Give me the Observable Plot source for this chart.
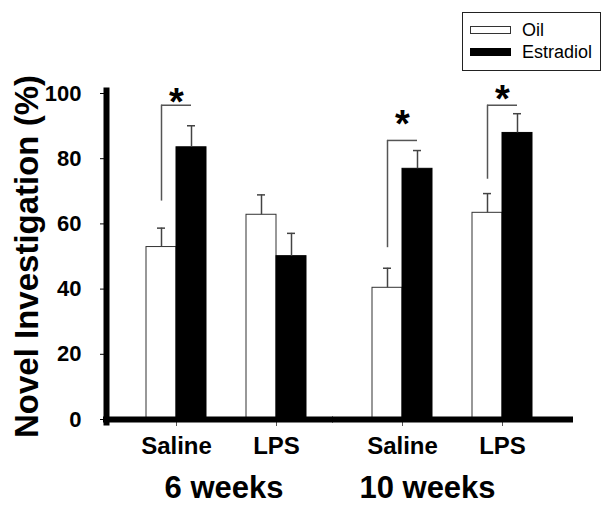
<!DOCTYPE html>
<html><head><meta charset="utf-8">
<script src="https://cdn.jsdelivr.net/npm/d3@7"></script>
<script src="https://cdn.jsdelivr.net/npm/@observablehq/plot@0.6"></script>
<style>
body{margin:0;background:#fff;}
#wrap{position:relative;width:612px;height:510px;font-family:"Liberation Sans",Arial,sans-serif;}
#legend{position:absolute;left:462px;top:12px;width:139px;height:59px;border:1px solid #222;box-sizing:border-box;background:#fff;}
.item{position:absolute;left:7px;height:20px;display:flex;align-items:center;font-size:18px;color:#000;}
.sw{width:41px;height:8px;box-sizing:border-box;border:1px solid #333;margin-right:11px;}
</style></head><body><div id="wrap"><div id="legend"></div></div>
<script>
// ---- data ----
const ageGroups = ["6 weeks", "10 weeks"];
const treatmentLevels = ["Saline", "LPS"];
const seriesNames = ["Oil", "Estradiol"];
const seriesFill = ["white", "black"];

const ages = ["6 weeks", "6 weeks", "10 weeks", "10 weeks"];
const treatments = ["Saline", "LPS", "Saline", "LPS"];
const oilMean = [52.9, 62.8, 40.4, 63.4];
const oilSE = [5.8, 6.1, 6.0, 5.9];
const estMean = [83.5, 50.1, 76.9, 87.9];
const estSE = [6.6, 7.0, 5.6, 5.9];

const sigAge = ["6 weeks", "10 weeks", "10 weeks"];
const sigTreatment = ["Saline", "Saline", "LPS"];
const bracketLow = [67.0, 52.7, 73.7];
const bracketHigh = [96.4, 85.6, 96.4];
const starY = [100.2, 93.3, 101.1];

const yTicks = [0, 20, 40, 60, 80, 100];
const yTitle = "Novel Investigation (%)";

// ---- tables ----
const rows = ages.map((a, i) => ({age: a, treatment: treatments[i], oil: oilMean[i], oilTop: oilMean[i] + oilSE[i], est: estMean[i], estTop: estMean[i] + estSE[i]}));
const sig = sigAge.map((a, i) => ({age: a, treatment: sigTreatment[i], low: bracketLow[i], high: bracketHigh[i], star: starY[i]}));

const plot = Plot.plot({
  width: 612, height: 510,
  marginLeft: 105, marginRight: 54, marginTop: 93, marginBottom: 91,
  style: {fontFamily: "Liberation Sans, Arial, sans-serif", color: "#000", background: "#fff"},
  fx: {domain: ageGroups, padding: 0, axis: null},
  x: {domain: treatmentLevels, paddingInner: 0.403, paddingOuter: 0.328, align: 0.608, axis: null},
  y: {domain: [0, 100], axis: null},
  marks: [
    Plot.barY(rows, {fx: "age", x: "treatment", y: "oil", fill: seriesFill[0], stroke: "#333", strokeWidth: 1, insetRight: 30}),
    Plot.barY(rows, {fx: "age", x: "treatment", y: "est", fill: seriesFill[1], stroke: "#000", strokeWidth: 1, insetLeft: 30}),
    Plot.ruleX(rows, {fx: "age", x: "treatment", y1: "oil", y2: "oilTop", dx: -15, stroke: "#444", strokeWidth: 1.5}),
    Plot.tickY(rows, {fx: "age", x: "treatment", y: "oilTop", insetLeft: 11, insetRight: 41, stroke: "#444", strokeWidth: 1.5}),
    Plot.ruleX(rows, {fx: "age", x: "treatment", y1: "est", y2: "estTop", dx: 15, stroke: "#444", strokeWidth: 1.5}),
    Plot.tickY(rows, {fx: "age", x: "treatment", y: "estTop", insetLeft: 41, insetRight: 11, stroke: "#444", strokeWidth: 1.5}),
    Plot.ruleX(sig, {fx: "age", x: "treatment", y1: "low", y2: "high", dx: -15, stroke: "#555", strokeWidth: 1.5}),
    Plot.tickY(sig, {fx: "age", x: "treatment", y: "high", insetLeft: 15, insetRight: 15, stroke: "#555", strokeWidth: 1.5}),
    Plot.text(sig, {fx: "age", x: "treatment", y: "star", text: () => "*", fontSize: 38, fontWeight: "bold", dy: 9.5}),
    Plot.axisX({tickSize: 7, tickPadding: 10, fontSize: 24, fontWeight: "bold", label: null, stroke: "#555"}),
    Plot.ruleY([0], {facetAnchor: "left", strokeWidth: 6, stroke: "#000", insetLeft: -3, insetRight: -1}),
    Plot.ruleY([0], {facetAnchor: "right", strokeWidth: 6, stroke: "#000", insetLeft: 0, insetRight: -15}),
    Plot.frame({anchor: "left", facetAnchor: "left", stroke: "#000", strokeWidth: 6, insetTop: -3, insetBottom: -3}),
    Plot.axisY({ticks: yTicks, tickSize: 6, tickPadding: 19, fontSize: 22, fontWeight: "bold", label: null, stroke: "#000"}),
    Plot.axisY({ticks: [], tickSize: 0, label: yTitle, labelAnchor: "center", labelArrow: "none", labelOffset: 92, fontSize: 33, fontWeight: "bold"}),
    Plot.text([ageGroups[0]], {fx: d => d, text: d => d, frameAnchor: "bottom", lineAnchor: "top", dy: 56, dx: 4.5, fontSize: 31, fontWeight: "bold"}),
    Plot.text([ageGroups[1]], {fx: d => d, text: d => d, frameAnchor: "bottom", lineAnchor: "top", dy: 56, dx: -18, fontSize: 31, fontWeight: "bold"})
  ]
});
const wrap = document.getElementById("wrap");
wrap.insertBefore(plot, wrap.firstChild);

const legend = document.getElementById("legend");
const itemTops = [7, 29];
seriesNames.forEach((name, i) => {
  const it = document.createElement("div");
  it.className = "item";
  it.style.top = itemTops[i] + "px";
  const sw = document.createElement("span");
  sw.className = "sw";
  sw.style.background = seriesFill[i];
  sw.style.borderColor = i === 0 ? "#333" : "#000";
  const tx = document.createElement("span");
  tx.textContent = name;
  it.appendChild(sw); it.appendChild(tx);
  legend.appendChild(it);
});
</script>
</body></html>
